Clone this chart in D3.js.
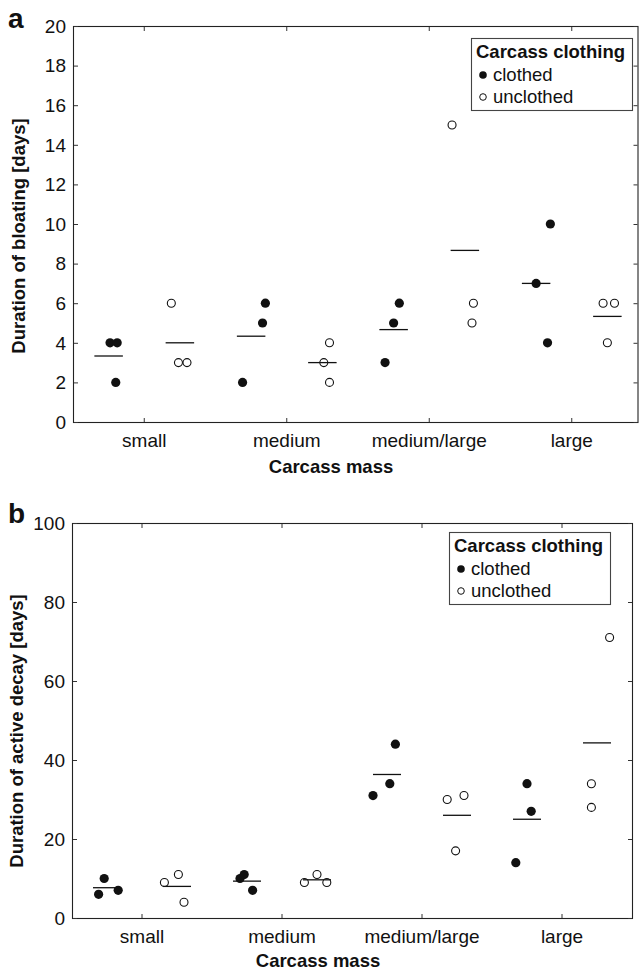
<!DOCTYPE html>
<html>
<head>
<meta charset="utf-8">
<script src="https://cdn.jsdelivr.net/npm/d3@7"></script>
<style>
  body { margin: 0; background: #fff; }
  svg text { font-family: "Liberation Sans", Arial, sans-serif; fill: #111; }
</style>
</head>
<body>
<div class="plot"></div>
<script>
//DATA
let categories = ["small", "medium", "medium/large", "large"];
let groups = ["clothed", "unclothed"];

// panel a: duration of bloating, three carcasses per cell
let bloatClothed   = [[4, 4, 2], [2, 5, 6], [3, 5, 6], [7, 10, 4]];
let bloatUnclothed = [[6, 3, 3], [4, 3, 2], [15, 6, 5], [6, 6, 4]];
// horizontal scatter of the points, in category units
let bloatJitterC = [[0.01, 0.06, 0.05], [-0.06, 0.08, 0.10], [-0.06, 0.00, 0.04], [0.00, 0.10, 0.08]];
let bloatJitterU = [[-0.06, -0.01, 0.05], [0.05, 0.01, 0.05], [-0.09, 0.06, 0.05], [-0.03, 0.05, 0.00]];
let bloatTicks = [0, 2, 4, 6, 8, 10, 12, 14, 16, 18, 20];

// panel b: duration of active decay
let decayClothed   = [[6, 10, 7], [10, 11, 7], [31, 34, 44], [14, 34, 27]];
let decayUnclothed = [[9, 11, 4], [9, 11, 9], [30, 31, 17], [28, 34, 71]];
let decayJitterC = [[-0.06, -0.02, 0.08], [-0.05, -0.02, 0.04], [-0.10, 0.02, 0.06], [-0.08, 0.00, 0.03]];
let decayJitterU = [[-0.09, 0.01, 0.05], [-0.09, 0.00, 0.07], [-0.07, 0.05, -0.01], [-0.04, -0.04, 0.09]];
let decayTicks = [0, 20, 40, 60, 80, 100];

//GENERAL SETUP
let w = 639, h = 975;
let groupOffset = 0.25;   // clothed left, unclothed right of the category
let meanHalf = 0.1;
let labelSize = 19;
let titleSize = 18.5;

let svg = d3.select(".plot").append("svg")
    .attr("width", w)
    .attr("height", h);

let drawPanel = function(p) {
  let x = d3.scaleLinear().domain([0.5, 4.5]).range([p.left, p.right]);
  let y = d3.scaleLinear().domain([0, p.ticks[p.ticks.length - 1]]).range([p.bottom, p.top]);
  let frameRight = Math.min(p.right, w - 1.5);

  let g = svg.append("g");

  //Frame
  g.append("rect")
      .attr("x", p.left + 0.5)
      .attr("y", p.top + 0.5)
      .attr("width", frameRight - p.left)
      .attr("height", p.bottom - p.top)
      .attr("fill", "none")
      .attr("stroke", "#222")
      .attr("stroke-width", 1.1);

  //Inside ticks, all four sides
  let xTickPos = categories.map((c, i) => i + 1);
  g.selectAll(".xtickB").data(xTickPos).enter().append("line")
      .attr("x1", d => x(d)).attr("x2", d => x(d))
      .attr("y1", p.bottom).attr("y2", p.bottom - 4)
      .attr("stroke", "#333");
  g.selectAll(".xtickT").data(xTickPos).enter().append("line")
      .attr("x1", d => x(d)).attr("x2", d => x(d))
      .attr("y1", p.top + 1).attr("y2", p.top + 5)
      .attr("stroke", "#333");
  g.selectAll(".ytickL").data(p.ticks).enter().append("line")
      .attr("x1", p.left + 1).attr("x2", p.left + 5)
      .attr("y1", d => y(d) + 0.5).attr("y2", d => y(d) + 0.5)
      .attr("stroke", "#333");
  g.selectAll(".ytickR").data(p.ticks).enter().append("line")
      .attr("x1", frameRight).attr("x2", frameRight - 4)
      .attr("y1", d => y(d) + 0.5).attr("y2", d => y(d) + 0.5)
      .attr("stroke", "#333");

  //Tick labels
  g.selectAll(".ylab").data(p.ticks).enter().append("text")
      .attr("x", p.left - 7)
      .attr("y", d => y(d))
      .attr("dy", "0.36em")
      .attr("text-anchor", "end")
      .attr("font-size", labelSize)
      .text(d => d);
  g.selectAll(".xlab").data(categories).enter().append("text")
      .attr("x", (d, i) => x(i + 1))
      .attr("y", p.bottom + 25)
      .attr("text-anchor", "middle")
      .attr("font-size", labelSize)
      .text(d => d);

  //Axis titles
  g.append("text")
      .attr("x", p.xTitleX)
      .attr("y", p.bottom + p.xTitleDy)
      .attr("text-anchor", "middle")
      .attr("font-size", titleSize)
      .attr("font-weight", "bold")
      .text("Carcass mass");
  g.append("text")
      .attr("transform", "translate(" + p.yTitleX + "," + p.yTitleY + ") rotate(-90)")
      .attr("text-anchor", "middle")
      .attr("font-size", titleSize)
      .attr("font-weight", "bold")
      .text(p.yTitle);

  //Panel letter
  g.append("text")
      .attr("x", 8)
      .attr("y", p.letterY)
      .attr("font-size", 28)
      .attr("font-weight", "bold")
      .text(p.letter);

  //Points and means
  let series = [
    {name: "clothed", values: p.clothed, jitter: p.jitterC, off: -groupOffset},
    {name: "unclothed", values: p.unclothed, jitter: p.jitterU, off: groupOffset}
  ];
  series.forEach(function(s) {
    let pts = [];
    s.values.forEach(function(vals, ci) {
      vals.forEach(function(v, k) {
        pts.push({c: ci + 1 + s.off + s.jitter[ci][k], v: v});
      });
    });
    g.selectAll(".pt-" + s.name).data(pts).enter().append("circle")
        .attr("cx", d => x(d.c))
        .attr("cy", d => y(d.v))
        .attr("r", s.name === "clothed" ? 4.6 : 4)
        .attr("fill", s.name === "clothed" ? "#111" : "#fff")
        .attr("stroke", "#111")
        .attr("stroke-width", s.name === "clothed" ? 0 : 1.1);

    g.selectAll(".mean-" + s.name).data(s.values).enter().append("line")
        .attr("x1", (d, i) => x(i + 1 + s.off - meanHalf))
        .attr("x2", (d, i) => x(i + 1 + s.off + meanHalf))
        .attr("y1", d => y(d3.mean(d)))
        .attr("y2", d => y(d3.mean(d)))
        .attr("stroke", "#111")
        .attr("stroke-width", 1.3);
  });

  //LEGEND
  let legend = g.append("g")
      .attr("transform", "translate(" + p.legendX + "," + p.legendY + ")");
  legend.append("rect")
      .attr("x", 0.5).attr("y", 0.5)
      .attr("width", 161).attr("height", 72)
      .attr("fill", "#fff")
      .attr("stroke", "#444")
      .attr("stroke-width", 1.1);
  legend.append("text")
      .attr("x", 5).attr("y", 20)
      .attr("font-size", titleSize)
      .attr("font-weight", "bold")
      .text("Carcass clothing");
  legend.selectAll(".lgm").data(groups).enter().append("circle")
      .attr("cx", 12)
      .attr("cy", (d, i) => 37 + i * 22)
      .attr("r", (d, i) => i === 0 ? 3.8 : 3.3)
      .attr("fill", (d, i) => i === 0 ? "#111" : "#fff")
      .attr("stroke", "#111")
      .attr("stroke-width", (d, i) => i === 0 ? 0 : 1);
  legend.selectAll(".lgt").data(groups).enter().append("text")
      .attr("x", 22)
      .attr("y", (d, i) => 43 + i * 22)
      .attr("font-size", titleSize)
      .text(d => d);
};

drawPanel({
  letter: "a", letterY: 28,
  top: 26, bottom: 422, left: 73, right: 643,
  ticks: bloatTicks,
  clothed: bloatClothed, unclothed: bloatUnclothed,
  jitterC: bloatJitterC, jitterU: bloatJitterU,
  yTitle: "Duration of bloating [days]", yTitleX: 25, yTitleY: 236,
  xTitleX: 331, xTitleDy: 51,
  legendX: 471, legendY: 38
});

drawPanel({
  letter: "b", letterY: 523,
  top: 523, bottom: 918, left: 72, right: 632,
  ticks: decayTicks,
  clothed: decayClothed, unclothed: decayUnclothed,
  jitterC: decayJitterC, jitterU: decayJitterU,
  yTitle: "Duration of active decay [days]", yTitleX: 23, yTitleY: 731,
  xTitleX: 318, xTitleDy: 49,
  legendX: 449, legendY: 532
});
</script>
</body>
</html>
